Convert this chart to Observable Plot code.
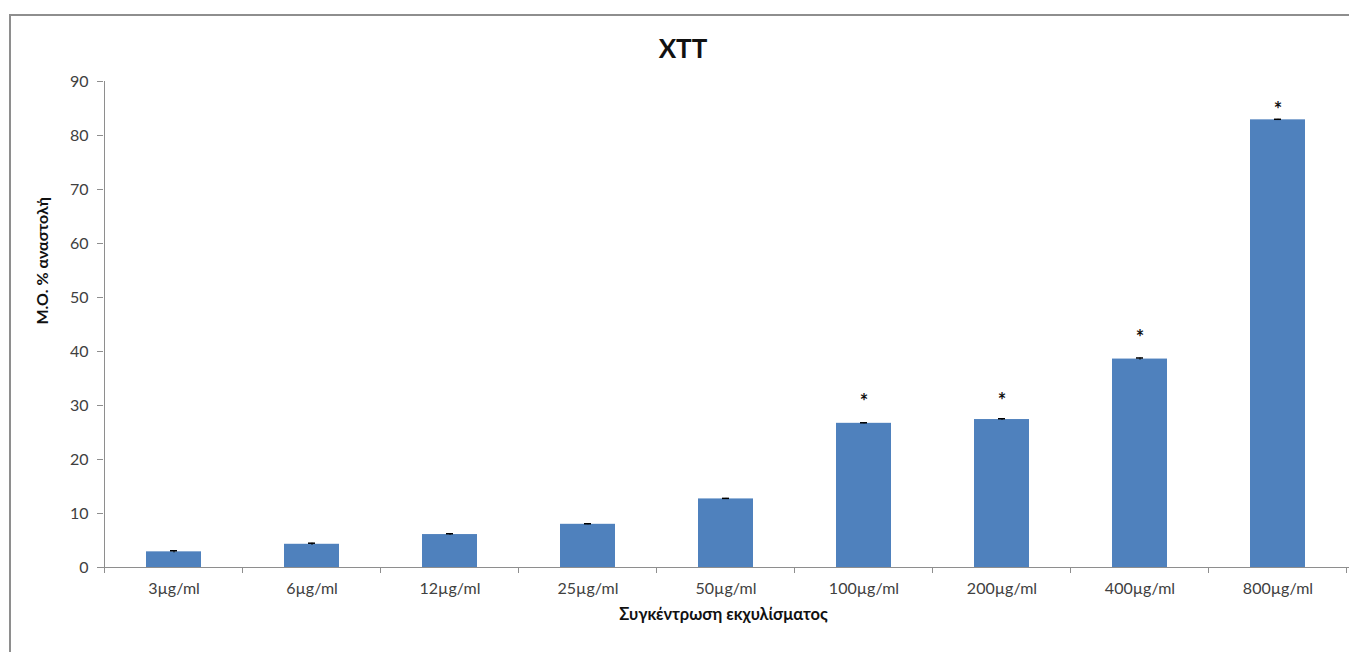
<!DOCTYPE html>
<html>
<head>
<meta charset="utf-8">
<script src="https://cdn.jsdelivr.net/npm/d3@7"></script>
<script src="https://cdn.jsdelivr.net/npm/@observablehq/plot@0.6"></script>
<style>
  html, body { margin: 0; padding: 0; background: #fff; overflow: hidden; }
  #frame { position: absolute; left: 9px; top: 14px; width: 1400px; height: 700px;
           border-left: 2px solid #8e8e8e; border-top: 2px solid #8e8e8e; box-sizing: border-box; }
  #title { position: absolute; left: 0; top: 32px; width: 1366px; text-align: center;
           font-family: Lato, "Noto Sans", sans-serif; font-weight: bold; font-size: 26px; color: #111; }
  #chart { position: absolute; left: 0; top: 0; }
</style>
</head>
<body>
<div id="frame"></div>
<div id="chart"></div>
<div id="title">XTT</div>
<script>
const categories = ["3µg/ml","6µg/ml","12µg/ml","25µg/ml","50µg/ml","100µg/ml","200µg/ml","400µg/ml","800µg/ml"];
const means = [2.9, 4.3, 6.1, 8.0, 12.7, 26.7, 27.4, 38.6, 82.9];
const errors = [0.2, 0.2, 0.15, 0.1, 0.1, 0.1, 0.15, 0.2, 0.1];
const sigCategories = ["100µg/ml","200µg/ml","400µg/ml","800µg/ml"];
const sigLevels = [30.6, 30.8, 42.3, 84.7];
const yTicks = [0,10,20,30,40,50,60,70,80,90];
const yLabel = "Μ.Ο. % αναστολή";
const xLabel = "Συγκέντρωση εκχυλίσματος";

const data = categories.map((c, i) => ({cat: c, val: means[i], err: errors[i]}));
const sig = sigCategories.map((c, i) => ({cat: c, y: sigLevels[i]}));

const chart = Plot.plot({
  width: 1349,
  height: 652,
  marginLeft: 103,
  marginRight: 0,
  marginTop: 81,
  marginBottom: 85,
  style: {fontFamily: 'Lato, "Noto Sans", sans-serif', background: "transparent"},
  x: {domain: categories, paddingInner: 0.6, paddingOuter: 0.3, label: null},
  y: {domain: [0, 90], label: null},
  marks: [
    Plot.barY(data, {x: "cat", y: "val", fill: "#4f81bd"}),
    Plot.ruleX(data, {x: "cat", y1: d => d.val - d.err, y2: d => d.val + d.err, stroke: "#000", strokeWidth: 1}),
    Plot.tickY(data, {x: "cat", y: d => d.val + d.err, stroke: "#000", strokeWidth: 1.5, insetLeft: 24, insetRight: 24}),
    Plot.ruleY([0], {stroke: "#8e8e8e", strokeWidth: 1}),
    Plot.axisY({ticks: yTicks, tickSize: 6, tickPadding: 9, fontSize: 16, stroke: "#8e8e8e", fill: "#404040", label: null}),
    Plot.axisX({tickSize: 0, tickPadding: 15, fontSize: 16, fill: "#404040", label: null}),
    Plot.text(sig, {x: "cat", y: "y", text: () => "*", fontSize: 20, fontWeight: "bold", fill: "#111"}),
    Plot.text([yLabel], {frameAnchor: "left", dx: -61, rotate: -90, text: d => d, fontSize: 16, fontWeight: "bold", fill: "#111"}),
    Plot.text([xLabel], {frameAnchor: "bottom", dy: 52, dx: -3, text: d => d, fontSize: 16.5, fontWeight: "bold", fill: "#111"})
  ]
});

// axis line and category separators from the library's scales
const xs = chart.scale("x");
const ys = chart.scale("y");
const svg = d3.select(chart);
const step = xs.step, bw = xs.bandwidth;
const y0 = ys.apply(0), yTop = ys.apply(90);
const firstEdge = xs.apply(categories[0]) + bw / 2 - step / 2;
svg.append("line").attr("x1", firstEdge).attr("x2", firstEdge).attr("y1", yTop).attr("y2", y0)
  .attr("stroke", "#8e8e8e").attr("stroke-width", 1);
const edges = categories.map(c => xs.apply(c) + bw / 2 - step / 2)
  .concat([xs.apply(categories[categories.length - 1]) + bw / 2 + step / 2]);
svg.append("g").selectAll("line").data(edges).join("line")
  .attr("x1", d => d).attr("x2", d => d).attr("y1", y0).attr("y2", y0 + 6)
  .attr("stroke", "#8e8e8e").attr("stroke-width", 1);

document.getElementById("chart").append(chart);
</script>
</body>
</html>
